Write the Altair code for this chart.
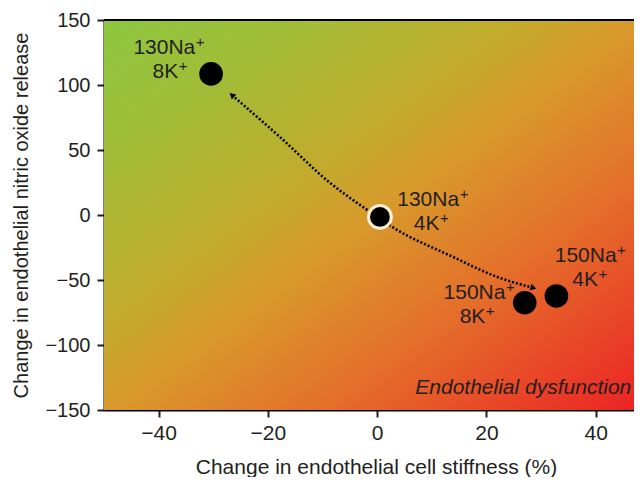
import altair as alt
import pandas as pd

# data
na_labels = ["130Na", "130Na", "150Na", "150Na"]
k_labels = ["8K", "4K", "8K", "4K"]
stiffness = [-30.4, 0.5, 27.0, 32.8]
no_release = [108.5, -1.5, -67.5, -62.3]

# dotted curved arrow path
path_x = [-26.6, -17.8, -8.6, -1.8, 2.75, 13.9, 22.0, 28.6]
path_y = [92.3, 60.0, 24.6, 3.8, -9.2, -32.3, -47.7, -56.0]

x_domain = [-50, 47.0]
y_domain = [-150, 150]
x_ticks = [-40, -20, 0, 20, 40]
y_ticks = [-150, -100, -50, 0, 50, 100, 150]

FONT = "Liberation Sans"
TXT = "#231f20"
FS = 21
SUP_FS = 15

pts = pd.DataFrame({"x": stiffness, "y": no_release})
path = pd.DataFrame({"x": path_x, "y": path_y, "o": list(range(len(path_x)))})
heads = pd.DataFrame({"x": [path_x[0], path_x[-1]], "y": [path_y[0], path_y[-1]]})

xs = alt.Scale(domain=x_domain, nice=False, zero=False)
ys = alt.Scale(domain=y_domain, nice=False, zero=False)

xax = alt.Axis(values=x_ticks, title="Change in endothelial cell stiffness (%)",
               grid=False, domainColor="black", domainWidth=2, tickColor=TXT,
               tickSize=7, tickWidth=2, labelFontSize=21, labelColor=TXT, labelFont=FONT,
               labelPadding=5, titleFontSize=21, titleFont=FONT, titleColor=TXT,
               titleFontWeight="normal", titleX=272, titleY=57, titleBaseline="middle")
yax = alt.Axis(values=y_ticks, title="Change in endothelial nitric oxide release",
               grid=False, domainColor="black", domainWidth=2, tickColor=TXT,
               tickSize=7, tickWidth=2, labelFontSize=20, labelColor=TXT, labelFont=FONT,
               labelPadding=7, titleFontSize=20, titleFont=FONT, titleColor=TXT,
               titleFontWeight="normal", titleX=-82.5, titleY=195, titleAngle=270,
               titleBaseline="middle", titleAlign="center")

grad = alt.Gradient(
    gradient="linear", x1=0, y1=0, x2=1, y2=1,
    stops=[
        alt.GradientStop(offset=0.0, color="#8cc63f"),
        alt.GradientStop(offset=0.2, color="#a4bb36"),
        alt.GradientStop(offset=0.4, color="#c4aa2c"),
        alt.GradientStop(offset=0.5, color="#d89a2c"),
        alt.GradientStop(offset=0.7, color="#e4702a"),
        alt.GradientStop(offset=0.85, color="#e84a28"),
        alt.GradientStop(offset=1.0, color="#ec2424"),
    ],
)

one = pd.DataFrame({"a": [0]})

bg = alt.Chart(one).mark_rect(color=grad).encode(
    x=alt.datum(x_domain[0], scale=xs, axis=xax),
    x2=alt.datum(x_domain[1]),
    y=alt.datum(y_domain[1], scale=ys, axis=yax),
    y2=alt.datum(y_domain[0]),
)

top = alt.Chart(one).mark_rule(color="black", strokeWidth=2).encode(
    y=alt.datum(y_domain[1]))

line = alt.Chart(path).mark_line(color="black", strokeWidth=2.6, strokeDash=[2, 2],
                                 interpolate="monotone").encode(
    x=alt.X("x:Q"), y=alt.Y("y:Q"), order="o:Q")

head1 = alt.Chart(heads.iloc[[0]]).mark_point(shape="triangle-up", filled=True, color="black",
                                               opacity=1, size=45, angle=311).encode(
    x="x:Q", y="y:Q")
head2 = alt.Chart(heads.iloc[[1]]).mark_point(shape="triangle-up", filled=True, color="black",
                                               opacity=1, size=45, angle=107).encode(
    x="x:Q", y="y:Q")

dots = alt.Chart(pts).mark_circle(color="black", opacity=1, size=560).encode(
    x="x:Q", y="y:Q")
halo = alt.Chart(pts.iloc[[1]]).mark_point(filled=True, fill="black", stroke="#fbeed6",
                                           strokeWidth=3, opacity=1, size=520).encode(
    x="x:Q", y="y:Q")

# text widths (em) for Liberation Sans, to place the superscript plus
EM = {"0": 0.556, "1": 0.556, "3": 0.556, "4": 0.556, "5": 0.556, "8": 0.556,
      "N": 0.722, "a": 0.556, "K": 0.667}
PLUS_W = 0.584 * SUP_FS * 0.85


def tw(s):
    return sum(EM.get(c, 0.556) for c in s) * FS


# line-centre offsets from each point (first line, second line)
line_offsets = [((-43, -26), (-42, -2)), ((52, -16.5), (50.5, 7.5)),
                ((-46.5, -10), (-48.5, 14)), ((33, -39.5), (32.5, -15.5))]

labels = []
for i in range(len(stiffness)):
    for txt, (cdx, cdy) in zip((na_labels[i], k_labels[i]), line_offsets[i]):
        w = tw(txt)
        total = w + PLUS_W
        right = cdx - total / 2 + w
        src = pts.iloc[[i]]
        labels.append(alt.Chart(src).mark_text(
            text=txt, font=FONT, fontSize=FS, color=TXT, dx=right, dy=cdy,
            align="right", baseline="middle").encode(x="x:Q", y="y:Q"))
        labels.append(alt.Chart(src).mark_text(
            text="+", font=FONT, fontSize=SUP_FS, color=TXT, dx=right + 0.5, dy=cdy - 6,
            align="left", baseline="middle").encode(x="x:Q", y="y:Q"))

note = alt.Chart(one).mark_text(
    text="Endothelial dysfunction", font=FONT, fontSize=FS, fontStyle="italic", color=TXT,
    align="right", baseline="middle").encode(x=alt.datum(46.5), y=alt.datum(-133))

chart = alt.layer(bg, top, line, head1, head2, dots, halo, *labels, note).properties(
    width=530, height=390,
    autosize=alt.AutoSizeParams(type="none"),
    padding={"left": 96, "top": 12, "right": 0, "bottom": 67},
).configure_view(stroke=None)

chart.save("out.html", embed_options={"renderer": "svg", "actions": False})
